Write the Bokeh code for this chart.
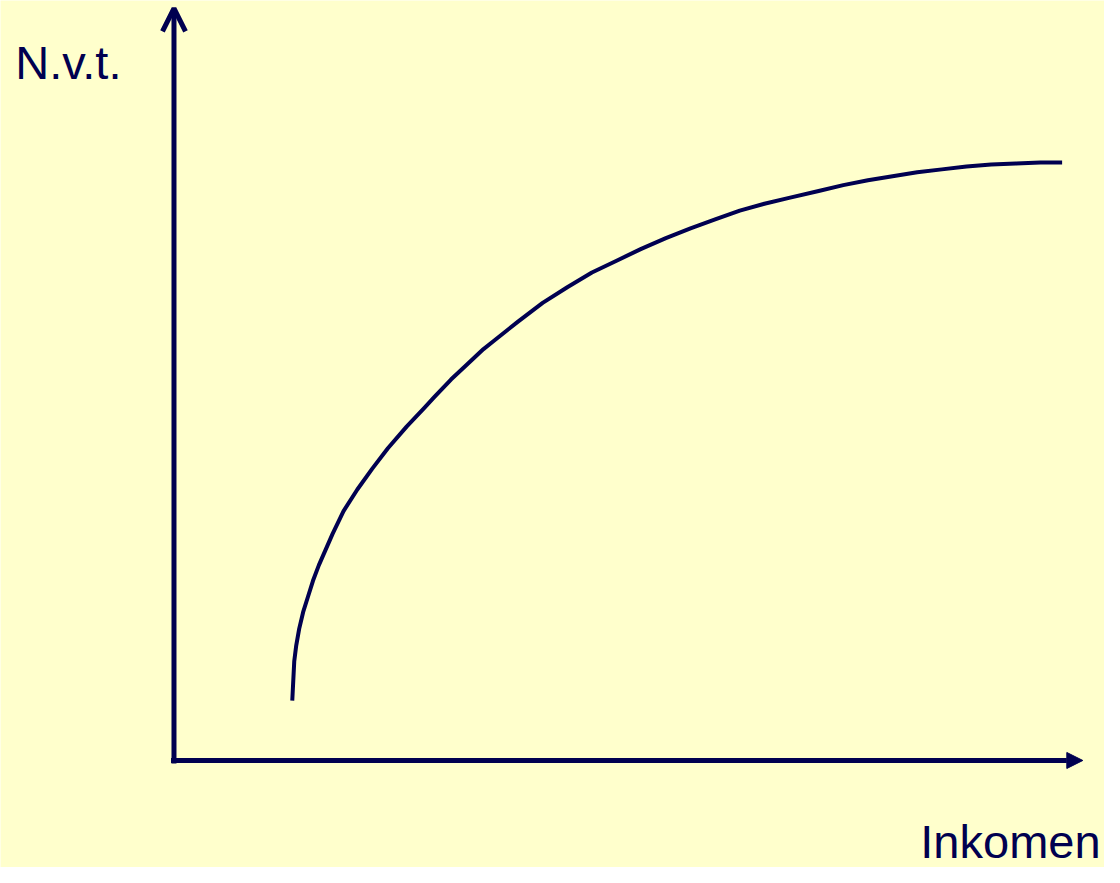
from bokeh.plotting import figure
from bokeh.models import Range1d, Arrow, OpenHead, NormalHead, Label
from bokeh.embed import file_html
from bokeh.resources import INLINE

# Conceptual curve: N.v.t. as a function of income
income = [1.20, 1.21, 1.22, 1.24, 1.27, 1.31, 1.36, 1.41, 1.47, 1.54,
          1.61, 1.72, 1.86, 2.01, 2.17, 2.36, 2.54, 2.64, 2.81, 2.97,
          3.14, 3.24, 3.49, 3.74, 3.99, 4.24, 4.49, 4.74, 4.99, 5.24,
          5.49, 5.74, 5.99, 6.24, 6.54, 6.79, 7.04, 7.29, 7.54, 7.79,
          8.04, 8.29, 8.54, 8.79, 9.01]
nvt = [0.61, 0.81, 1.01, 1.17, 1.34, 1.51, 1.67, 1.83, 1.99, 2.15,
       2.31, 2.54, 2.76, 2.97, 3.18, 3.40, 3.59, 3.70, 3.88, 4.03,
       4.19, 4.27, 4.47, 4.66, 4.82, 4.97, 5.09, 5.21, 5.32, 5.42,
       5.51, 5.60, 5.67, 5.73, 5.80, 5.86, 5.91, 5.95, 5.99, 6.02,
       6.05, 6.07, 6.08, 6.09, 6.09]

y_label = "N.v.t."
x_label = "Inkomen"

x_axis_end = 9.22
y_axis_end = 7.66

NAVY = "#000050"
BG = "#FFFFCC"
FONT = "Liberation Sans"

p = figure(width=1104, height=867, output_backend="svg", toolbar_location=None,
           x_range=Range1d(-1.76, 9.44), y_range=Range1d(-1.09, 7.74),
           min_border=0)
p.axis.visible = False
p.grid.visible = False
p.outline_line_color = None
p.background_fill_color = BG
p.border_fill_color = BG

# axes as arrows
p.add_layout(Arrow(x_start=0, y_start=-0.03, x_end=0, y_end=y_axis_end,
                   line_color=NAVY, line_width=5,
                   end=OpenHead(size=23, line_color=NAVY, line_width=5)))
p.add_layout(Arrow(x_start=-0.03, y_start=0, x_end=x_axis_end, y_end=0,
                   line_color=NAVY, line_width=5,
                   end=NormalHead(size=16, fill_color=NAVY, line_color=NAVY, line_width=1)))

p.line(income, nvt, line_color=NAVY, line_width=4, line_join="round")

p.add_layout(Label(x=-1.61, y=7.11, text=y_label, text_font=FONT,
                   text_font_size="47px", text_color=NAVY,
                   text_baseline="alphabetic", text_align="left"))
p.add_layout(Label(x=9.40, y=-0.83, text=x_label, text_font=FONT,
                   text_font_size="47px", text_color=NAVY,
                   text_baseline="alphabetic", text_align="right"))

open("out.html", "w").write(file_html(p, INLINE))
